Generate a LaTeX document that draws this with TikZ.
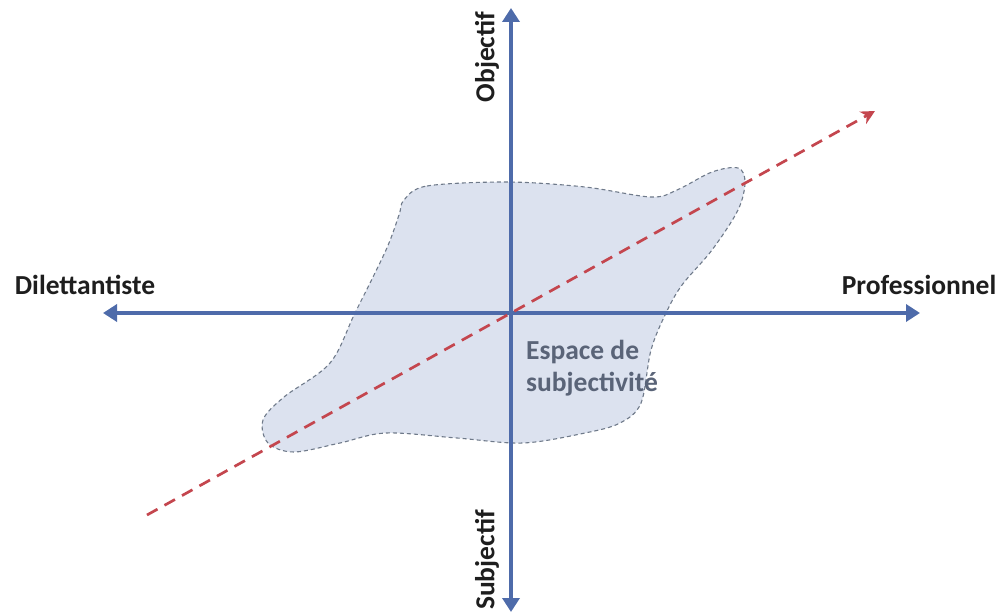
\documentclass[tikz,border=0pt]{standalone}
\usepackage{fontspec}
\setmainfont{Carlito}
\usetikzlibrary{arrows.meta}
\definecolor{axisblue}{HTML}{4E6BAA}
\definecolor{blobfill}{HTML}{DCE2EF}
\definecolor{blobline}{HTML}{6F7A8A}
\definecolor{reddash}{HTML}{C4464E}
\definecolor{labeltext}{HTML}{1E1E1E}
\definecolor{spacetext}{HTML}{5A6478}
\tikzset{
  axisline/.style={draw=axisblue, line width=3.8pt, -{Triangle[width=17pt,length=14pt]}},
  trendline/.style={draw=reddash, line width=2.7pt, dash pattern=on 12pt off 8pt, -{Stealth[width=14pt,length=14pt]}},
  blobshape/.style={fill=blobfill, draw=blobline, line width=1.1pt, dash pattern=on 4pt off 3pt},
  axislabel/.style={font=\bfseries\fontsize{27.5}{30}\selectfont, text=labeltext, inner sep=0pt},
  spacelabel/.style={font=\bfseries\fontsize{27.5}{32}\selectfont, text=spacetext, align=left, inner sep=0pt}
}
\begin{document}
\begin{tikzpicture}[x=1pt,y=-1pt]
\useasboundingbox (0,0) rectangle (1001,615);
% blob
\draw[blobshape] plot[smooth cycle, tension=0.55] coordinates {
 (404,200) (427,186) (508,182) (585,187) (651,197) (677,190) (712,172) (738,168)
 (745,182) (738,210) (712,250) (682,285) (666,313) (651,350) (641,403) (620,423)
 (585,433) (523,443) (457,438) (386,433) (340,443) (294,452) (268,443) (263,420)
 (284,397) (330,363) (355,313) (386,250) (399,215)};
\coordinate (O) at (511,313);
\coordinate (T) at (511,8);
\coordinate (B) at (511,612);
\coordinate (L) at (103,313);
\coordinate (R) at (920,313);
\coordinate (rs) at (147,515);
\coordinate (re) at (875,111);
\draw[axisline] (O) -- (T);
\draw[axisline] (O) -- (B);
\draw[axisline] (O) -- (L);
\draw[axisline] (O) -- (R);
\draw[trendline] (rs) -- (re);
\node[axislabel, rotate=90] (obj) at (487,57) {Objectif};
\node[axislabel, rotate=90] (subj) at (487,560) {Subjectif};
\node[axislabel] (dil) at (85,285) {Dilettantiste};
\node[axislabel] (pro) at (919,285) {Professionnel};
\node[spacelabel, anchor=north west] (esp) at (526,340) {Espace de\\subjectivité};
\end{tikzpicture}
\end{document}
